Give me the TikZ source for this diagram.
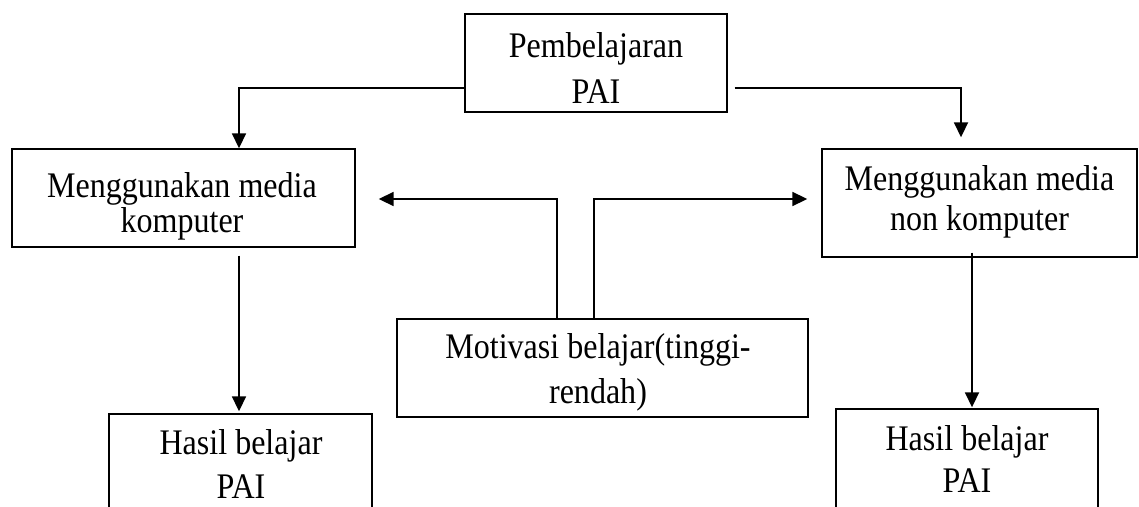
\documentclass[tikz,border=0pt]{standalone}
\usepackage{fontspec}
\setmainfont{Liberation Serif}[FakeStretch=0.89]
\usetikzlibrary{arrows.meta}
\begin{document}
\begin{tikzpicture}[x=1pt,y=-1pt,
  box/.style={draw, line width=1.4pt, inner sep=0pt, rectangle},
  lbl/.style={inner sep=0pt, anchor=base, font=\fontsize{36}{36}\selectfont},
  arr/.style={line width=1.8pt, -{Triangle[length=15pt,width=14pt]}}]
\useasboundingbox (0,0) rectangle (1139,506);
\clip (0,0) rectangle (1139,506);
% boxes
\node[box, minimum width=262pt, minimum height=98pt] (top) at (596,63) {};
\node[box, minimum width=343pt, minimum height=98pt] (lbox) at (183.5,198) {};
\node[box, minimum width=315pt, minimum height=108pt] (rbox) at (979.5,203) {};
\node[box, minimum width=411pt, minimum height=98pt] (mot) at (602.5,368) {};
\node[box, minimum width=263pt, minimum height=126pt] (lres) at (240.5,477) {};
\node[box, minimum width=262pt, minimum height=131pt] (rres) at (967,474.5) {};
% texts
\node[lbl] (ta) at (596,57) {Pembelajaran};
\node[lbl] (tb) at (596,103) {PAI};
\node[lbl] (la) at (182,197) {Menggunakan media};
\node[lbl] (lb) at (182,232) {komputer};
\node[lbl] (ra) at (979.5,190) {Menggunakan media};
\node[lbl] (rb) at (979.5,230) {non komputer};
\node[lbl] (ma) at (598,358) {Motivasi belajar(tinggi-};
\node[lbl] (mb) at (598,403) {rendah)};
\node[lbl] (lra) at (241,454) {Hasil belajar};
\node[lbl] (lrb) at (241,498) {PAI};
\node[lbl] (rra) at (967,450) {Hasil belajar};
\node[lbl] (rrb) at (967,492) {PAI};
% connectors
\draw[arr] ([yshift=-25pt]top.west) -| ([xshift=55.5pt]lbox.north);
\draw[arr] ([xshift=7pt,yshift=-25pt]top.east) -| ([xshift=-18.5pt,yshift=11pt]rbox.north);
\draw[arr] ([xshift=-45.5pt]mot.north) |- ([xshift=23pt,yshift=-1pt]lbox.east);
\draw[arr] ([xshift=-8.5pt]mot.north) |- ([xshift=-14pt,yshift=4pt]rbox.west);
\draw[arr] ([xshift=55.5pt,yshift=-8pt]lbox.south) -- ([xshift=-1.5pt,yshift=2pt]lres.north);
\draw[arr] ([xshift=-7.5pt,yshift=5pt]rbox.south) -- ([xshift=5pt,yshift=1pt]rres.north);
\end{tikzpicture}
\end{document}
